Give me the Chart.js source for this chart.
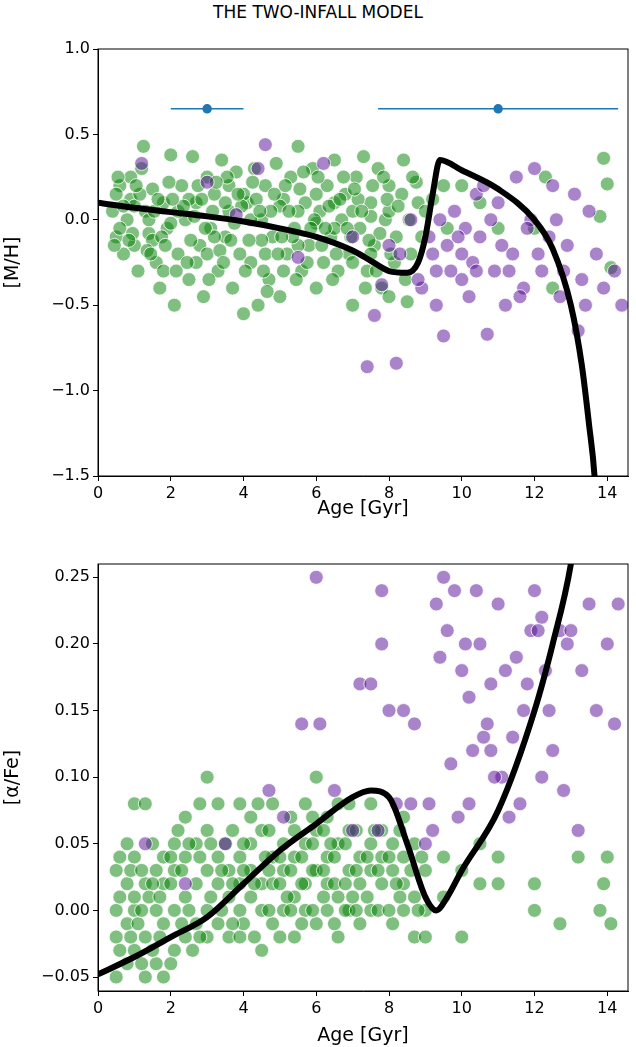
<!DOCTYPE html>
<html><head>
<script src="https://cdn.jsdelivr.net/npm/chart.js@4"></script>
<style>
body{margin:0;background:#fff;font-family:"DejaVu Sans",sans-serif;}
#title{position:absolute;top:2px;left:0;width:636px;text-align:center;font-size:17px;color:#000;}
canvas{position:absolute;left:0;}
</style></head><body>
<div id="title">THE TWO-INFALL MODEL</div>
<canvas id="top" style="top:0"></canvas>
<canvas id="bot" style="top:540px"></canvas>
<script>
// --- data ---
const greenTop = [[0.4,0.05],[0.5,-0.1],[0.6,0.2],[0.7,-0.2],[0.8,0.0],[0.9,0.12],[1.0,-0.15],[1.1,-0.3],[1.2,0.3],[1.25,0.43],[1.3,0.05],[1.4,-0.08],[1.5,0.18],[1.6,-0.25],[1.7,-0.4],[1.8,0.1],[1.9,-0.05],[2.0,0.38],[2.1,-0.5],[2.2,-0.2],[2.3,0.2],[2.4,0.0],[2.5,-0.35],[2.6,0.37],[2.7,0.1],[2.8,-0.15],[2.9,-0.45],[3.0,0.25],[3.1,-0.05],[3.2,0.15],[3.3,-0.3],[3.4,0.35],[3.5,-0.1],[3.6,0.05],[3.7,-0.4],[3.8,0.28],[3.9,-0.2],[4.0,-0.55],[4.1,0.1],[4.2,-0.25],[4.3,0.3],[4.4,-0.5],[4.5,0.0],[4.6,0.2],[4.7,-0.35],[4.8,-0.1],[4.9,0.33],[5.0,-0.45],[5.1,0.12],[5.2,-0.2],[5.3,0.25],[5.4,-0.05],[5.5,0.43],[5.6,-0.3],[5.7,0.1],[5.8,-0.15],[5.9,0.3],[6.0,-0.4],[6.1,0.05],[6.2,-0.25],[6.3,0.2],[6.4,-0.1],[6.5,0.35],[6.6,-0.3],[6.7,0.0],[6.8,0.15],[6.9,-0.2],[7.0,-0.5],[7.1,0.25],[7.2,-0.05],[7.3,0.37],[7.4,-0.3],[7.5,0.1],[7.6,-0.15],[7.7,0.3],[7.8,-0.4],[7.9,0.0],[8.0,0.2],[8.2,-0.1],[8.4,0.35],[8.6,-0.2],[8.8,0.1],[9.0,0.05],[0.6,-0.05],[0.9,0.25],[1.4,0.0],[1.8,-0.3],[2.2,0.05],[2.7,-0.25],[3.2,-0.1],[3.6,0.2],[4.2,0.0],[4.6,-0.2],[5.1,-0.3],[5.5,0.05],[6.0,0.15],[6.5,-0.05],[7.0,0.05],[7.5,-0.2],[8.0,-0.45],[9.6,-0.05],[13.9,0.36],[14.0,0.21],[13.8,0.02],[14.1,-0.28],[12.0,-0.05],[10.5,0.1],[9.5,0.2],[8.5,-0.48],[12.5,-0.4],[0.5,0.15],[1.0,0.08],[1.5,-0.12],[2.0,-0.02],[2.5,0.12],[3.0,-0.2],[3.5,0.1],[4.0,0.15],[4.5,-0.12],[5.0,0.08],[5.5,-0.15],[6.0,-0.02],[6.5,0.1],[7.0,-0.25],[7.5,0.02],[8.0,0.05],
  [0.45,-0.15],[0.7,0.08],[0.95,-0.08],[1.15,0.15],[1.35,-0.18],[1.55,0.05],[1.75,-0.1],[1.95,0.22],[2.15,-0.3],[2.35,0.08],[2.55,-0.12],[2.75,0.2],[2.95,-0.05],[3.15,0.05],[3.35,-0.18],[3.55,0.25],[3.75,-0.02],[3.95,0.08],[4.15,-0.12],[4.35,0.12],[4.55,-0.3],[4.75,0.05],[4.95,-0.2],[5.15,0.2],[5.35,-0.1],[5.55,0.18],[5.75,-0.25],[5.95,0.0],[6.15,-0.15],[6.35,0.08],[6.55,-0.2],[6.75,0.25],[6.95,-0.1],[7.15,0.12],[7.35,-0.4],[7.55,0.2],[7.75,-0.08],[7.95,0.12],[8.15,-0.25],[8.35,0.15],[8.55,0.0],[8.75,0.22],[0.55,0.25],[0.85,-0.12],[1.05,0.2],[1.45,-0.2],[1.65,0.12],[1.85,-0.15],[2.05,0.12],[2.45,-0.25],[2.65,0.02],[2.85,0.12],[3.05,-0.35],[3.25,0.22],[3.45,-0.25],[3.65,-0.12],[3.85,0.15],[4.05,-0.3],[4.25,0.22],[4.45,0.05],[4.65,-0.42],[4.85,0.15],[5.05,-0.1],[5.25,0.05],[5.45,-0.35],[5.65,0.28],[5.85,-0.05],[6.05,0.25],[6.25,-0.05],[6.45,-0.35],[6.65,0.12],[6.85,-0.05],[7.05,0.18],[7.25,0.05],[7.45,-0.12],[7.65,-0.3],[7.85,0.25],[8.05,-0.2],[8.25,0.08],[8.45,-0.35],[8.65,0.25],[8.9,-0.1],[9.2,0.12],[10.0,0.2],[11.0,-0.05],[12.3,0.25]];
const purpleTop = [[1.2,0.33],[3.0,0.22],[3.8,0.03],[4.4,0.3],[4.6,0.44],[5.5,-0.22],[6.2,0.33],[7.0,-0.1],[7.4,-0.86],[7.6,-0.56],[7.8,-0.38],[8.2,-0.84],[8.3,-0.2],[8.6,0.0],[8.9,-0.4],[9.1,-0.1],[9.3,-0.5],[9.5,-0.68],[9.7,-0.3],[9.8,0.05],[10.0,-0.2],[10.2,-0.45],[10.4,0.15],[10.5,-0.1],[10.7,-0.67],[10.9,-0.3],[11.0,0.1],[11.2,-0.5],[11.4,-0.2],[11.5,0.25],[11.7,-0.4],[11.9,0.0],[12.0,0.3],[12.2,-0.3],[12.4,-0.1],[12.5,0.2],[12.7,-0.45],[12.9,-0.15],[13.1,0.15],[13.3,-0.35],[13.5,0.05],[13.7,-0.2],[13.9,-0.4],[14.2,-0.3],[14.4,-0.5],[10.1,-0.05],[10.3,-0.25],[10.6,0.2],[11.1,-0.15],[11.8,-0.05],[12.6,0.0],[9.9,-0.1],[9.2,-0.2],[8.0,-0.15],[13.2,-0.65],[11.6,-0.45],[10.8,0.0],[9.4,0.0],[10.0,-0.35],[9.6,-0.15],[10.4,-0.3],[11.3,-0.3],[12.1,-0.2],[12.8,-0.3],[13.4,-0.5],[9.3,-0.3],[8.8,-0.35]];
const modelTopAge = [0,1,2,3,4,5,6,7,7.5,8,8.5,8.8,9,9.2,9.4,10,11,12,12.5,13,13.3,13.5,13.65,13.7];
const modelTopMH = [0.1,0.07,0.045,0.02,-0.01,-0.05,-0.1,-0.18,-0.24,-0.3,-0.31,-0.25,-0.1,0.15,0.35,0.29,0.18,0.0,-0.17,-0.5,-0.85,-1.2,-1.5,-1.7];
const errCenter = [3,11], errLow = [2,7.7], errHigh = [4,14.3], errY = 0.65;

const greenBot = [[0.5,-0.05],[0.5,-0.02],[0.5,0.0],[0.5,0.03],[0.8,-0.04],[0.8,-0.01],[0.8,0.02],[0.8,0.05],[1.0,-0.03],[1.0,0.0],[1.0,0.01],[1.0,0.04],[1.0,0.08],[1.3,-0.05],[1.3,-0.02],[1.3,0.02],[1.3,0.08],[1.6,-0.04],[1.6,0.0],[1.6,0.03],[1.8,-0.05],[1.8,-0.01],[1.8,0.02],[1.8,0.04],[2.1,-0.03],[2.1,0.0],[2.1,0.03],[2.1,0.05],[2.4,-0.02],[2.4,0.01],[2.4,0.04],[2.4,0.07],[2.7,-0.01],[2.7,0.02],[2.7,0.05],[3.0,0.1],[3.0,-0.02],[3.0,0.0],[3.0,0.03],[3.0,0.06],[3.3,-0.01],[3.3,0.02],[3.3,0.04],[3.3,0.08],[3.6,-0.02],[3.6,0.01],[3.6,0.03],[3.9,0.0],[3.9,0.02],[3.9,0.04],[3.9,0.08],[3.9,-0.02],[4.2,0.01],[4.2,0.03],[4.2,0.05],[4.2,0.07],[4.5,-0.03],[4.5,0.0],[4.5,0.02],[4.5,0.06],[4.8,-0.01],[4.8,0.02],[4.8,0.04],[4.8,0.08],[5.1,0.0],[5.1,0.03],[5.1,0.05],[5.4,-0.02],[5.4,0.01],[5.4,0.04],[5.4,0.06],[5.7,0.0],[5.7,0.02],[5.7,0.05],[5.7,0.08],[6.0,-0.01],[6.0,0.03],[6.0,0.06],[6.0,0.1],[6.3,0.0],[6.3,0.02],[6.3,0.04],[6.3,0.07],[6.6,-0.02],[6.6,0.01],[6.6,0.05],[6.6,0.08],[6.9,0.0],[6.9,0.03],[6.9,0.06],[6.9,0.08],[7.2,-0.01],[7.2,0.02],[7.2,0.04],[7.5,0.0],[7.5,0.03],[7.5,0.05],[7.5,0.08],[7.8,0.02],[7.8,0.04],[7.8,0.06],[8.1,-0.01],[8.1,0.03],[8.1,0.05],[8.4,0.0],[8.4,0.02],[8.4,0.04],[8.4,0.07],[8.7,-0.02],[8.7,0.01],[8.7,0.05],[9.0,0.0],[9.0,0.03],[9.0,-0.02],[9.5,0.04],[9.5,0.01],[10.0,-0.02],[10.0,0.03],[10.5,0.05],[10.5,0.02],[11.0,0.02],[11.0,0.04],[12.0,0.0],[12.0,0.02],[12.7,-0.01],[13.2,0.04],[13.9,0.02],[13.8,0.0],[14.0,0.04],[14.1,-0.01],[0.6,-0.03],[1.1,-0.01],[1.4,0.01],[2.2,0.06],[2.6,-0.03],[3.5,0.05],[4.0,-0.01],[4.6,0.04],[5.2,0.01],[5.9,0.03],[6.4,0.05],[7.0,0.01],[7.6,0.06],[8.2,0.02],[8.9,0.04],
  [0.6,0.01],[0.6,0.04],[0.9,-0.02],[0.9,0.03],[1.2,-0.04],[1.2,0.0],[1.2,0.03],[1.5,-0.03],[1.5,0.02],[1.5,0.05],[1.7,-0.02],[1.7,0.01],[2.0,-0.04],[2.0,0.02],[2.0,0.04],[2.3,-0.01],[2.3,0.03],[2.5,0.0],[2.5,0.05],[2.8,-0.02],[2.8,0.04],[2.8,0.08],[3.1,0.01],[3.1,0.05],[3.4,0.0],[3.4,0.03],[3.7,-0.01],[3.7,0.02],[3.7,0.06],[4.0,0.03],[4.0,0.05],[4.3,-0.02],[4.3,0.02],[4.4,0.08],[4.7,0.0],[4.7,0.03],[4.7,0.06],[5.0,-0.02],[5.0,0.02],[5.0,0.04],[5.3,0.0],[5.3,0.03],[5.3,0.07],[5.6,-0.01],[5.6,0.02],[5.6,0.04],[5.9,0.0],[5.9,0.05],[5.9,0.07],[6.2,0.01],[6.2,0.03],[6.2,0.06],[6.5,-0.01],[6.5,0.02],[6.5,0.04],[6.8,0.0],[6.8,0.02],[6.8,0.05],[7.1,0.0],[7.1,0.03],[7.1,0.06],[7.4,0.01],[7.4,0.04],[7.7,0.0],[7.7,0.03],[8.0,0.0],[8.0,0.04],[8.3,0.01],[8.3,0.06],[8.6,0.03],[8.8,0.0]];
const purpleBot = [[6.0,0.25],[5.6,0.14],[6.1,0.14],[7.2,0.17],[7.5,0.17],[7.8,0.24],[7.8,0.2],[8.0,0.15],[8.4,0.15],[8.7,0.14],[9.3,0.23],[9.5,0.25],[9.6,0.21],[9.8,0.24],[10.0,0.18],[10.2,0.16],[10.4,0.24],[10.5,0.2],[10.6,0.13],[10.8,0.17],[11.0,0.23],[11.1,0.1],[11.3,0.07],[11.5,0.19],[11.7,0.15],[11.9,0.21],[12.0,0.24],[12.2,0.22],[12.3,0.18],[12.5,0.12],[12.7,0.21],[12.9,0.2],[13.0,0.21],[13.3,0.18],[13.5,0.23],[13.7,0.15],[14.0,0.2],[14.3,0.23],[14.2,0.14],[13.2,0.06],[10.3,0.12],[9.9,0.07],[9.2,0.06],[8.6,0.08],[9.1,0.08],[7.7,0.06],[7.0,0.06],[6.5,0.09],[4.7,0.09],[3.5,0.05],[1.3,0.05],[2.4,0.02],[5.1,0.07],[10.9,0.1],[11.6,0.08],[12.4,0.15],[12.8,0.09],[10.7,0.14],[9.7,0.11],[11.2,0.18],[12.1,0.21],[10.1,0.2],[9.4,0.19],[10.2,0.08],[10.8,0.12],[11.4,0.13],[12.2,0.1],[11.8,0.17],[9.0,0.05],[8.2,0.08]];
const modelBotAge = [0,1,2,3,4,5,6,7,7.5,8,8.5,9,9.3,9.6,10,11,12,12.5,13,13.1];
const modelBotAFe = [-0.048,-0.035,-0.02,-0.005,0.02,0.045,0.065,0.085,0.09,0.085,0.05,0.01,0.0,0.01,0.03,0.075,0.15,0.2,0.26,0.28];

const GREEN = "rgba(0,128,0,0.5)", PURPLE = "rgba(85,10,150,0.5)", BLUE = "#1f77b4";
const toXY = a => a.map(p => ({x: p[0], y: p[1]}));
const zip = (xs, ys) => xs.map((x, i) => ({x, y: ys[i]}));
const minus = v => String(v).replace("-", "\u2212");

const frame = {
  id: "frame",
  afterDraw(c) {
    const a = c.chartArea, g = c.ctx;
    g.save(); g.strokeStyle = "#000"; g.lineWidth = 1;
    g.strokeRect(a.left, a.top, a.right - a.left, a.bottom - a.top);
    g.restore();
  }
};

function scatter(data, color, order) {
  return {type: "scatter", data: toXY(data), backgroundColor: color, borderColor: "rgba(255,255,255,0.8)",
    borderWidth: 1, pointRadius: 7, order};
}
function line(xs, ys) {
  return {type: "line", data: zip(xs, ys), borderColor: "#000", borderWidth: 6, pointRadius: 0,
    cubicInterpolationMode: "monotone", fill: false, order: 0, clip: true};
}
function axes(ymin, ymax, step, dec, yTitle, xHeight) {
  const tickFont = {family: "DejaVu Sans", size: 16};
  return {
    x: {type: "linear", min: 0, max: 14.57, afterBuildTicks: ax => { ax.ticks = [0,2,4,6,8,10,12,14].map(v => ({value: v})); },
      ticks: {color: "#000", font: tickFont, callback: v => v, maxRotation: 0},
      grid: {drawOnChartArea: false, color: "#000", tickLength: 5},
      border: {color: "#000"},
      title: {display: true, text: "Age [Gyr]", color: "#000", font: {family: "DejaVu Sans", size: 19}, padding: 0},
      afterFit: ax => { ax.height = xHeight; }},
    y: {min: ymin, max: ymax,
      afterBuildTicks: ax => { const t = []; for (let v = ymin < 0 && dec == 2 ? -0.05 : ymin; v <= ymax + 1e-9; v += step) t.push({value: +v.toFixed(3)}); ax.ticks = t; },
      ticks: {color: "#000", font: tickFont, callback: v => minus(v.toFixed(dec))},
      grid: {drawOnChartArea: false, color: "#000", tickLength: 5},
      border: {color: "#000"},
      title: {display: true, text: yTitle, color: "#000", font: {family: "DejaVu Sans", size: 19}, padding: 2},
      afterFit: ax => { ax.width = 98; }}
  };
}
const common = {responsive: false, animation: false, plugins: {legend: {display: false}, tooltip: {enabled: false}}};

const cTop = document.getElementById("top"); cTop.width = 636; cTop.height = 520;
const errSets = errCenter.map((c, i) => ({type: "line", data: [{x: errLow[i], y: errY}, {x: c, y: errY}, {x: errHigh[i], y: errY}],
  borderColor: BLUE, backgroundColor: BLUE, borderWidth: 1.5, pointRadius: [0, 4, 0], order: 0}));
new Chart(cTop, {
  data: {datasets: [line(modelTopAge, modelTopMH), ...errSets, scatter(purpleTop, PURPLE, 1), scatter(greenTop, GREEN, 2)]},
  options: {...common, layout: {padding: {top: 49, right: 2}}, scales: axes(-1.5, 1.0, 0.5, 1, "[M/H]", 44)},
  plugins: [frame]
});

const cBot = document.getElementById("bot"); cBot.width = 636; cBot.height = 507;
new Chart(cBot, {
  data: {datasets: [line(modelBotAge, modelBotAFe), scatter(purpleBot, PURPLE, 1), scatter(greenBot, GREEN, 2)]},
  options: {...common, layout: {padding: {top: 24, right: 2}}, scales: axes(-0.0605, 0.26, 0.05, 2, "[\u03b1/Fe]", 56)},
  plugins: [frame]
});
</script>
</body></html>
